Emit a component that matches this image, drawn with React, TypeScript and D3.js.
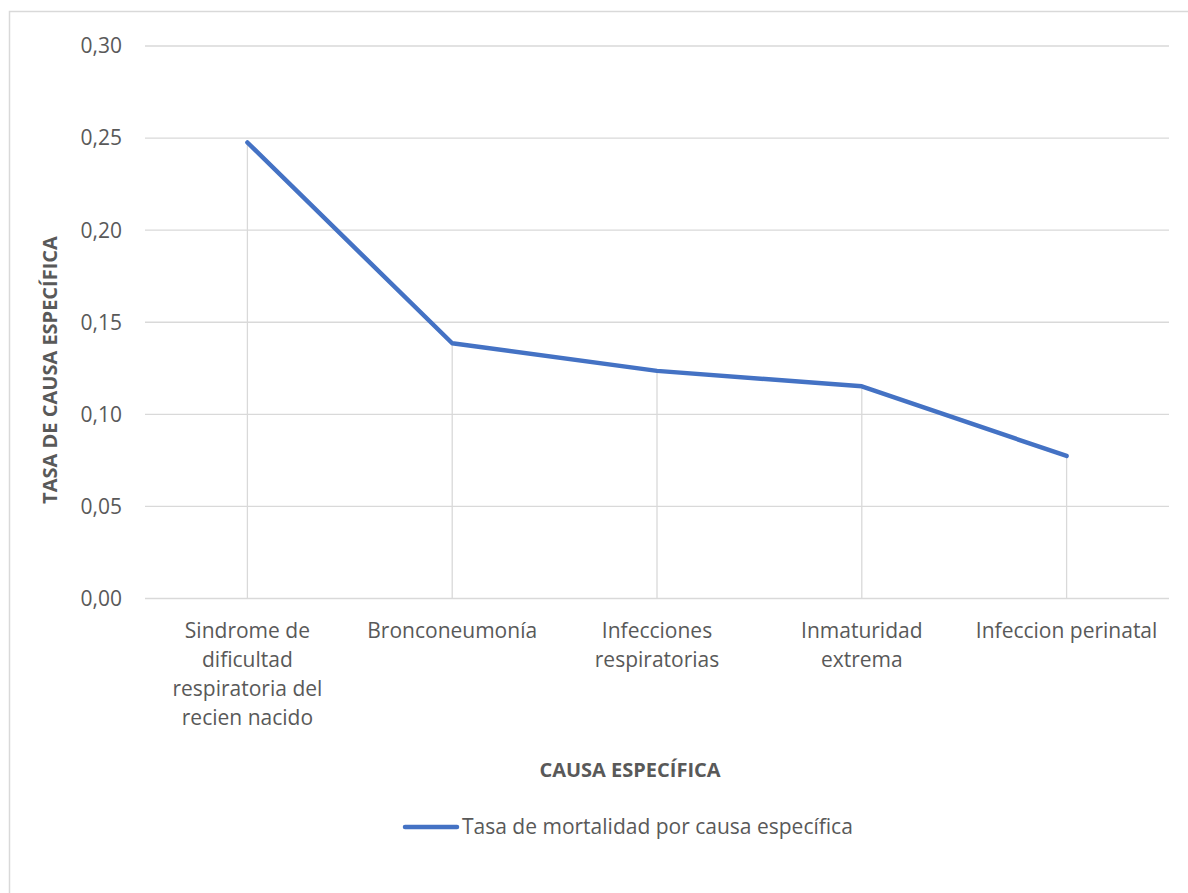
import React from "react";
import * as d3 from "d3";

const categories: string[][] = [
  ["Sindrome de", "dificultad", "respiratoria del", "recien nacido"],
  ["Bronconeumonía"],
  ["Infecciones", "respiratorias"],
  ["Inmaturidad", "extrema"],
  ["Infeccion perinatal"],
];
const values: number[] = [0.2476, 0.1386, 0.1236, 0.1152, 0.0774];
const yTicks: number[] = [0, 0.05, 0.1, 0.15, 0.2, 0.25, 0.3];
const seriesName = "Tasa de mortalidad por causa específica";
const xTitle = "CAUSA ESPECÍFICA";
const yTitle = "TASA DE CAUSA ESPECÍFICA";

const W = 1188;
const H = 893;
const FONT = "'Open Sans', Lato, sans-serif";
const TEXT = "#595959";
const GRID = "#d9d9d9";
const BLUE = "#4472C4";
const FS = 21;
const FSB = 20;

export default function App() {
  const left = 145;
  const right = 1169;
  const top = 46;
  const bottom = 598.5;
  const x = d3
    .scaleBand<number>()
    .domain(d3.range(categories.length))
    .range([left, right]);
  const y = d3.scaleLinear().domain([0, 0.3]).range([bottom, top]);
  const cx = (i: number) => (x(i) as number) + x.bandwidth() / 2;
  const line = d3
    .line<number>()
    .x((_, i) => cx(i))
    .y((d) => y(d));
  const fmt = (v: number) => v.toFixed(2).replace(".", ",");

  return (
    <svg
      width={W}
      height={H}
      style={{ position: "absolute", left: 0, top: 0, display: "block", background: "#fff" }}
      fontFamily={FONT}
    >
      <rect x={9.5} y={11.5} width={W + 20} height={H + 20} fill="#fff" stroke={GRID} strokeWidth={1.5} />
      {yTicks.map((t) => (
        <g key={t}>
          <line x1={left} x2={right} y1={y(t)} y2={y(t)} stroke={GRID} strokeWidth={1.3} />
          <text x={122} y={y(t)} dy="0.35em" textAnchor="end" fontSize={FS} fill={TEXT}>
            {fmt(t)}
          </text>
        </g>
      ))}
      {values.map((v, i) => (
        <line key={i} x1={cx(i)} x2={cx(i)} y1={y(0)} y2={y(v)} stroke={GRID} strokeWidth={1.3} />
      ))}
      <path d={line(values) || ""} fill="none" stroke={BLUE} strokeWidth={4.5} strokeLinecap="round" strokeLinejoin="round" />
      {categories.map((lines, i) => (
        <text key={i} x={cx(i)} y={631} textAnchor="middle" fontSize={FS} fill={TEXT}>
          {lines.map((l, j) => (
            <tspan key={j} x={cx(i)} y={631 + j * 29} dy="0.35em">
              {l}
            </tspan>
          ))}
        </text>
      ))}
      <text x={630} y={770} dy="0.35em" textAnchor="middle" fontSize={FSB} fontWeight="bold" fill={TEXT}>
        {xTitle}
      </text>
      <text
        transform={`translate(50,370) rotate(-90)`}
        dy="0.35em"
        textAnchor="middle"
        fontSize={FSB}
        fontWeight="bold"
        fill={TEXT}
      >
        {yTitle}
      </text>
      <line x1={405} x2={457} y1={827} y2={827} stroke={BLUE} strokeWidth={4.5} strokeLinecap="round" />
      <text x={462} y={827} dy="0.35em" fontSize={FS} fill={TEXT}>
        {seriesName}
      </text>
    </svg>
  );
}
